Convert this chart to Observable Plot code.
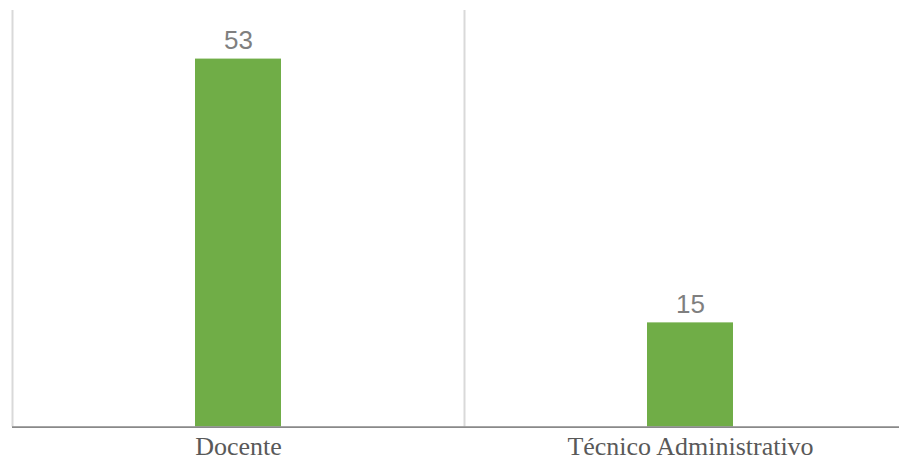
<!DOCTYPE html>
<html>
<head>
<meta charset="utf-8">
<script src="https://cdn.jsdelivr.net/npm/d3@7"></script>
<script src="https://cdn.jsdelivr.net/npm/@observablehq/plot@0.6"></script>
<style>
  html, body { margin: 0; padding: 0; background: #ffffff; }
  #chart svg { display: block; }
</style>
</head>
<body>
<div id="chart"></div>
<script>
const categories = ["Docente", "Técnico Administrativo"];
const values = [53, 15];
const labels = ["53", "15"];

const data = categories.map((c, i) => ({category: c, value: values[i], label: labels[i]}));

const chart = Plot.plot({
  width: 899,
  height: 461,
  marginTop: 10,
  marginBottom: 34.5,
  marginLeft: 12,
  marginRight: 0,
  style: {background: "#ffffff", overflow: "visible"},
  x: {domain: categories, range: [12, 916], paddingInner: 0.81, paddingOuter: 0.405, label: null},
  y: {domain: [0, 60], axis: null},
  marks: [
    Plot.ruleX(categories, {x: d => d, dx: -226, y1: 0, y2: 60, stroke: "#d9d9d9", strokeWidth: 2}),
    Plot.barY(data, {x: "category", y: "value", fill: "#70ad47"}),
    Plot.ruleY([0], {stroke: "#898989", strokeWidth: 1.75}),
    Plot.text(data, {x: "category", y: "value", text: "label", lineAnchor: "bottom", dy: -10,
      fill: "#7f7f7f", fontSize: 26, fontFamily: "'Liberation Sans', Arial, sans-serif"}),
    Plot.axisX({tickSize: 0, tickPadding: 10, fontSize: 26, fill: "#595959",
      fontFamily: "'Liberation Serif', 'Times New Roman', serif", label: null})
  ]
});
document.getElementById("chart").appendChild(chart);
</script>
</body>
</html>
